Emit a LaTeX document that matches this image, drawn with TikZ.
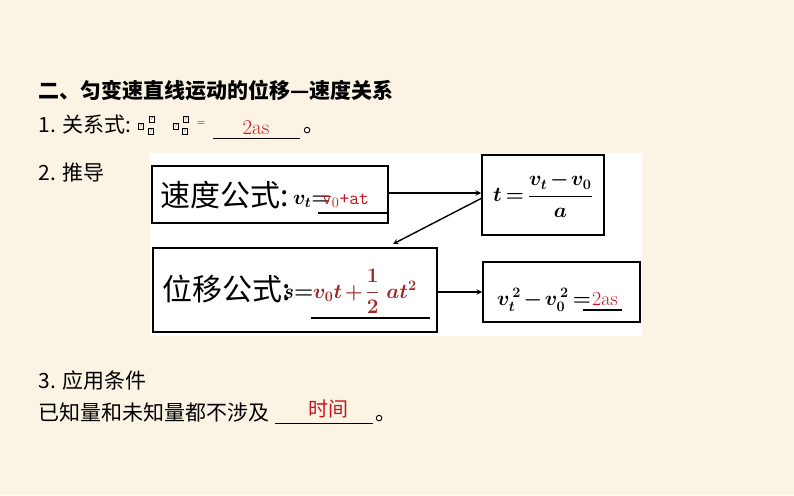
\documentclass[tikz,border=0pt]{standalone}
\usepackage{amsmath}
\usepackage{fontspec}
\newfontfamily\cjk{Noto Sans CJK SC}
\usetikzlibrary{positioning}
\definecolor{paper}{RGB}{251,244,228}
\definecolor{ansred}{RGB}{200,20,30}
\definecolor{darkred}{RGB}{160,40,40}
\tikzset{
  frame/.style={draw=black, line width=1.5pt, fill=white},
  textline/.style={text=black, anchor=base west, font=\cjk\fontsize{21}{21}\selectfont},
  tofu/.style={draw, line width=0.5pt, inner sep=1pt, font=\fontsize{5}{5}\selectfont},
  link/.style={->, line width=1.4pt, >=stealth}
}
\begin{document}
\begin{tikzpicture}[x=1pt,y=-1pt]
  \fill[paper] (0,0) rectangle (794,495);
  \useasboundingbox (0,0) rectangle (794,495);
  \fill[white] (150,153) rectangle (642,336);

  % headings
  \node[textline] (title) at (35,98) {\textbf{二、匀变速直线运动的位移—速度关系}};
  \node[textline] (rel) at (35,132) {1. 关系式:};
  \node[tofu] (t1) at (141,126) {?};
  \node[tofu] (t2) at (152,119) {?};
  \node[tofu] (t3) at (151,131) {?};
  \node[tofu] (t4) at (176,126) {?};
  \node[tofu] (t5) at (186,119) {?};
  \node[tofu] (t6) at (185,131) {?};
  \node[font=\fontsize{11}{11}\selectfont] (eq1) at (201,124) {=};
  \draw[line width=0.8pt] (213,138) -- (300,138);
  \node[text=ansred, font=\fontsize{21}{21}\selectfont, anchor=base] (rel2as) at (256,134) {2as};
  \node[textline] (dot1) at (300,132) {。};
  \node[textline] (derive) at (35,180) {2. 推导};
  \node[textline] (cond) at (35,388) {3. 应用条件};
  \node[textline] (known) at (35,420) {已知量和未知量都不涉及};
  \draw[line width=0.8pt] (275,423) -- (373,423);
  \node[text=ansred, font=\cjk\fontsize{20}{20}\selectfont, anchor=base] (time) at (328,416) {时间};
  \node[textline] (dot2) at (372,420) {。};

  % boxes
  \draw[frame] (152,166) rectangle (388,223);
  \node[anchor=base west, font=\cjk\fontsize{30}{30}\selectfont] (vel) at (157,206) {速度公式:};
  \node[anchor=base west, font=\fontsize{22}{22}\selectfont, inner sep=0pt] (velf) at (293,204) {$\boldsymbol{v_t}$\textbf{=}};
  \node[anchor=base west, text=ansred, font=\ttfamily\fontsize{19}{19}\selectfont, inner sep=0pt] (velans) at (322,204) {v$_0$+at};
  \draw[line width=1.2pt] (318,213) -- (388,213);

  \draw[frame] (482,155) rectangle (604,235);
  \node[font=\fontsize{22}{22}\selectfont] (tform) at (543,195) {$\boldsymbol{t\mkern-2mu=\mkern-2mu\dfrac{v_t\mkern-2mu-\mkern-2mu v_0}{\;a\;}}$};

  \draw[frame] (153,248) rectangle (437,332);
  \node[anchor=base west, font=\cjk\fontsize{30}{30}\selectfont] (disp) at (159,300) {位移公式:};
  \node[anchor=base west, font=\fontsize{22}{22}\selectfont, inner sep=0pt] (dispf) at (283,298) {$\boldsymbol{s}$\textbf{=}};
  \node[anchor=base west, text=darkred, font=\fontsize{22}{22}\selectfont, inner sep=0pt] (dispans) at (313,298) {$\boldsymbol{v_0t\mkern-2mu+\mkern-2mu\dfrac{1}{2}\;at^2}$};
  \draw[line width=1.2pt] (311,318) -- (430,318);

  \draw[frame] (483,262) rectangle (640,322);
  \node[anchor=base west, font=\fontsize{21}{21}\selectfont, inner sep=0pt] (sq) at (497,305) {$\boldsymbol{v_t^{\,2}\mkern-2mu-\mkern-2mu v_0^{\,2}\mkern-2mu=}$};
  \node[anchor=base west, text=ansred, font=\fontsize{20}{20}\selectfont, inner sep=0pt] (sqans) at (592,305) {2as};
  \draw[line width=1.2pt] (583,310) -- (622,310);

  \coordinate (b1e) at (388,193);
  \coordinate (b2w) at (481,193);
  \coordinate (b2s) at (482,198);
  \coordinate (b3n) at (393,244);
  \coordinate (b3e) at (437,292);
  \coordinate (b4w) at (482,292);
  \draw[link] (b1e) -- (b2w);
  \draw[link] (b2s) -- (b3n);
  \draw[link] (b3e) -- (b4w);
\end{tikzpicture}
\end{document}
